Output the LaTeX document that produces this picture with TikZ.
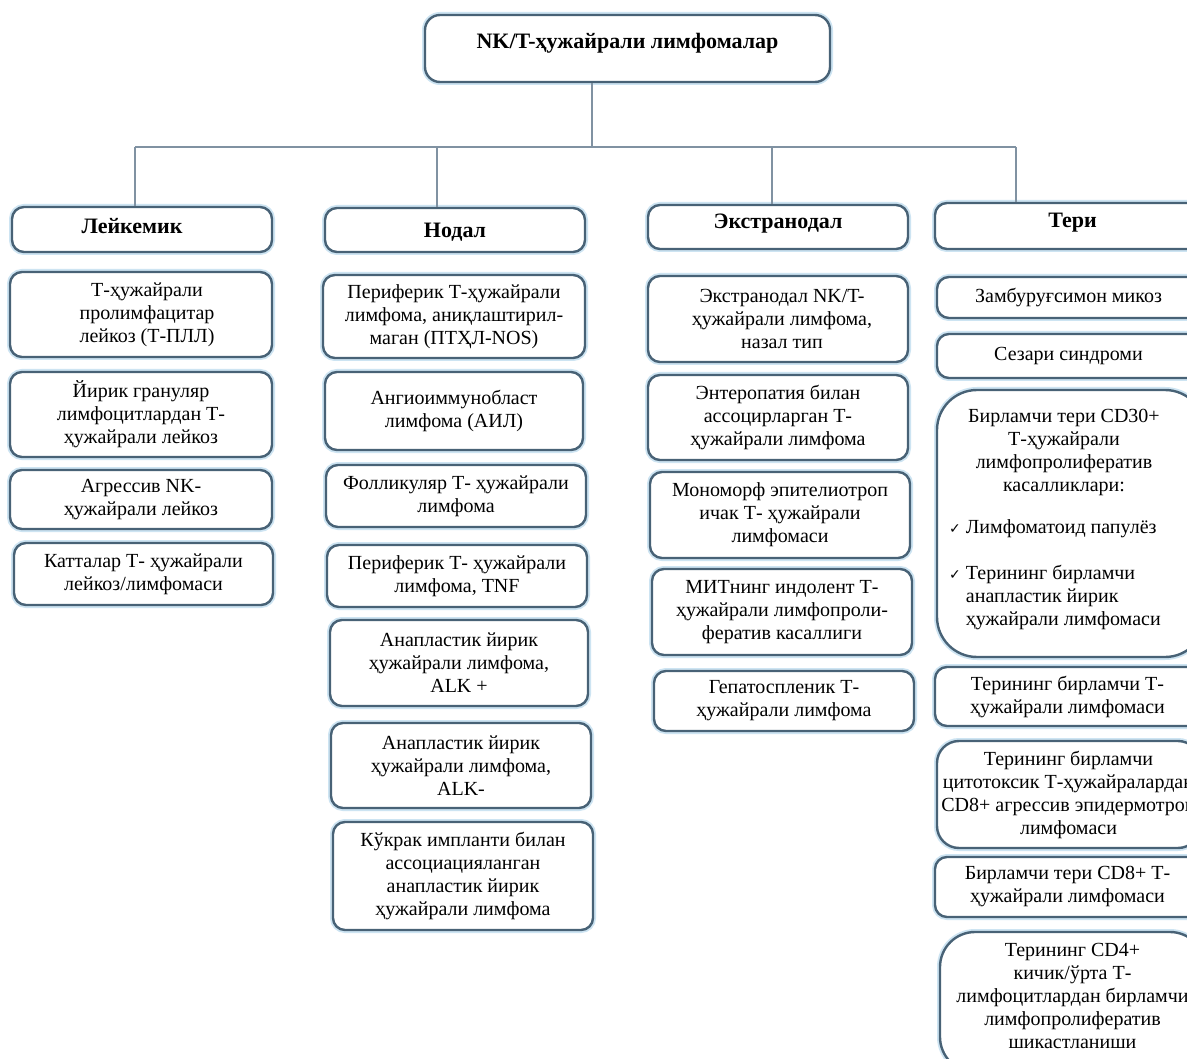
\documentclass[tikz,border=0pt]{standalone}
\usepackage{fontspec}
\setmainfont{Liberation Serif}
\newfontfamily\symfont{DejaVu Sans}
\definecolor{boxline}{RGB}{72,98,118}
\definecolor{boxhalo}{RGB}{205,228,242}
\definecolor{linkline}{RGB}{128,146,162}
\tikzset{
  lymbox/.style={draw=boxline, line width=2.4pt, rounded corners=12pt, fill=white,
    preaction={draw=boxhalo, line width=6pt}},
  lymtxt/.style={align=center, inner sep=0pt, text=black,
    font=\fontsize{20}{23}\selectfont},
  headtxt/.style={lymtxt, font=\fontsize{22}{25}\selectfont\bfseries},
  link/.style={draw=linkline, line width=1.6pt}
}
% \lymbox[box options]{name}{x1}{y1}{x2}{y2}{text options}{text}
\newcommand\lymbox[8][]{%
  \node[lymbox, minimum width={(#5-#3)*1pt}, minimum height={(#6-#4)*1pt}, #1]
    (#2) at ({(#3+#5)/2},{(#4+#6)/2}) {};
  \node[lymtxt, #7] (#2-t) at (#2.center) {#8};
}
\newcommand\chk{{\symfont\fontsize{14}{14}\selectfont ✓}}
\begin{document}
\begin{tikzpicture}[x=1pt, y=-1pt]
\clip (0,0) rectangle (1187,1059);
\fill[white] (0,0) rectangle (1187,1059);

% root
\lymbox[rounded corners=15pt]{root}{425}{15}{830}{82}{headtxt, yshift=5pt}{NK/T-ҳужайрали лимфомалар}

% category headers
\lymbox{leik}{12}{207}{272}{252}{headtxt, xshift=-10pt, yshift=3pt}{Лейкемик}
\lymbox{nodal}{325}{208}{585}{252}{headtxt, yshift=-2pt}{Нодал}
\lymbox{extra}{648}{205}{908}{249}{headtxt, yshift=3pt}{Экстранодал}
\lymbox{teri}{935}{203}{1200}{249}{headtxt, xshift=5pt, yshift=3pt}{Тери}

% tree connectors
\coordinate (bus) at (592,147);
\coordinate (h1) at (135,147);
\coordinate (h2) at (437,147);
\coordinate (h3) at (772,147);
\coordinate (h4) at (1016,147);
\draw[link] (root.south -| bus) -- (bus);
\draw[link] (h1) -- (h4);
\draw[link] (h1) -- (h1 |- leik.north);
\draw[link] (h2) -- (h2 |- nodal.north);
\draw[link] (h3) -- (h3 |- extra.north);
\draw[link] (h4) -- (h4 |- teri.north);

% leukemic
\lymbox{l1}{10}{272}{272}{357}{xshift=6pt}{Т-ҳужайрали\\пролимфацитар\\лейкоз (Т-ПЛЛ)}
\lymbox{l2}{10}{372}{272}{457}{}{Йирик грануляр\\лимфоцитлардан Т-\\ҳужайрали лейкоз}
\lymbox{l3}{10}{470}{272}{529}{}{Агрессив NK-\\ҳужайрали лейкоз}
\lymbox{l4}{14}{543}{273}{605}{}{Катталар Т- ҳужайрали\\лейкоз/лимфомаси}

% nodal
\lymbox{n1}{323}{275}{585}{358}{}{Периферик Т-ҳужайрали\\лимфома, аниқлаштирил-\\маган (ПТҲЛ-NOS)}
\lymbox{n2}{325}{372}{583}{450}{}{Ангиоиммунобласт\\лимфома (АИЛ)}
\lymbox{n3}{326}{465}{586}{527}{}{Фолликуляр Т- ҳужайрали\\лимфома}
\lymbox{n4}{327}{545}{587}{607}{}{Периферик Т- ҳужайрали\\лимфома, TNF}
\lymbox{n5}{330}{620}{588}{706}{}{Анапластик йирик\\ҳужайрали лимфома,\\ALK +}
\lymbox{n6}{331}{723}{591}{808}{}{Анапластик йирик\\ҳужайрали лимфома,\\ALK-}
\lymbox{n7}{333}{822}{593}{930}{}{Кўкрак импланти билан\\ассоциацияланган\\анапластик йирик\\ҳужайрали лимфома}

% extranodal
\lymbox{e1}{648}{276}{908}{362}{xshift=4pt}{Экстранодал NK/T-\\ҳужайрали лимфома,\\назал тип}
\lymbox{e2}{648}{375}{908}{460}{}{Энтеропатия билан\\ассоцирларган Т-\\ҳужайрали лимфома}
\lymbox{e3}{650}{472}{910}{558}{}{Мономорф эпителиотроп\\ичак Т- ҳужайрали\\лимфомаси}
\lymbox{e4}{652}{569}{912}{655}{}{МИТнинг индолент Т-\\ҳужайрали лимфопроли-\\фератив касаллиги}
\lymbox{e5}{654}{671}{914}{731}{}{Гепатоспленик Т-\\ҳужайрали лимфома}

% cutaneous
\lymbox{t1}{937}{277}{1200}{318}{}{Замбуруғсимон микоз}
\lymbox{t2}{937}{334}{1200}{378}{}{Сезари синдроми}
\node[lymbox, rounded corners=40pt, minimum width=268pt, minimum height=267pt]
  (t3) at (1071,523.5) {};
\node[lymtxt] (t3-head) at (1064,452) {Бирламчи тери CD30+\\Т-ҳужайрали\\лимфопролифератив\\касалликлари:};
\node[lymtxt, anchor=north west, align=left] (t3-list) at (949,517)
  {\begin{tabular}{@{}l@{\hspace{5pt}}l@{}}
    \chk & Лимфоматоид папулёз\\[23pt]
    \chk & Терининг бирламчи\\
         & анапластик йирик\\
         & ҳужайрали лимфомаси
   \end{tabular}};
\lymbox{t4}{935}{667}{1200}{726}{}{Терининг бирламчи Т-\\ҳужайрали лимфомаси}
\lymbox[rounded corners=22pt]{t5}{937}{741}{1200}{848}{}{Терининг бирламчи\\цитотоксик Т-ҳужайралардан\\CD8+ агрессив эпидермотроп\\лимфомаси}
\lymbox{t6}{935}{857}{1200}{917}{}{Бирламчи тери CD8+ Т-\\ҳужайрали лимфомаси}
\lymbox[rounded corners=35pt]{t7}{940}{932}{1205}{1072}{yshift=6pt}{Терининг CD4+\\кичик/ўрта Т-\\лимфоцитлардан бирламчи\\лимфопролифератив\\шикастланиши}
\end{tikzpicture}
\end{document}
